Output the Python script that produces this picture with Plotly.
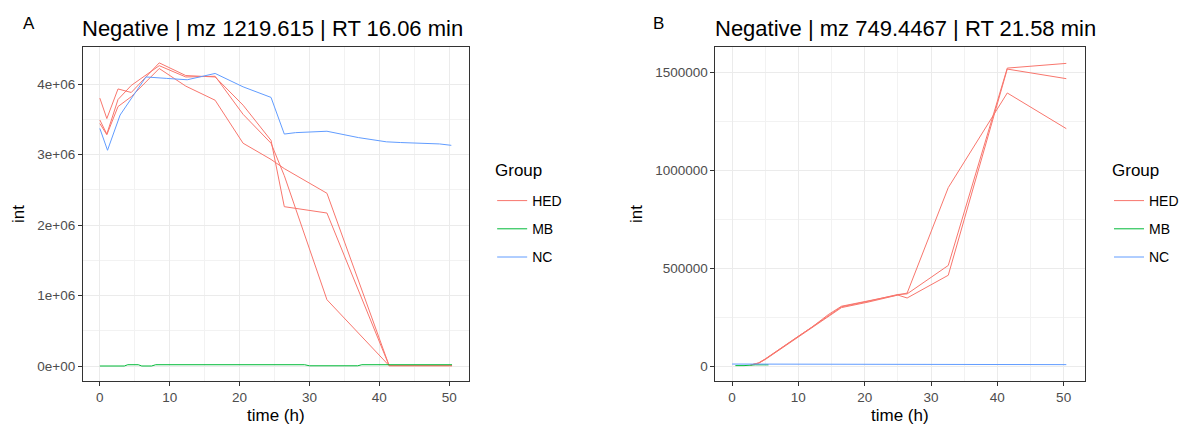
import plotly.graph_objects as go

W, H = 1184, 427
FONT = "Liberation Sans, Arial, sans-serif"
COL = {"HED": "#F8766D", "MB": "#00BA38", "NC": "#619CFF"}
groups = ["HED", "MB", "NC"]

# ---------------- Panel A data (int in 1e6 units) ----------------
a_hed_time = [0, 1, 2.6, 4.5, 8.5, 12.3, 16.5, 20.5, 24.5, 26.4, 32.5, 41.4, 50.4]
a_hed1 = [3.80, 3.51, 3.93, 3.88, 4.30, 4.12, 4.10, 3.70, 3.20, 2.26, 2.17, 0.005, 0.005]
a_hed2 = [3.49, 3.29, 3.78, 3.98, 4.26, 4.10, 4.11, 3.57, 3.16, 2.70, 0.94, 0.005, 0.005]
a_hed3 = [3.44, 3.28, 3.68, 3.82, 4.22, 3.97, 3.77, 3.16, 2.93, 2.80, 2.45, 0.005, 0.005]

a_mb_time = [0, 1, 3.5, 4.0, 5.5, 6.0, 7.4, 8.0, 12, 16.5, 20.5, 24.5, 29.3, 30.0, 36.9, 37.5, 41.5, 50.4]
a_mb = [0, 0, 0, 0.018, 0.018, 0, 0, 0.018, 0.018, 0.018, 0.018, 0.018, 0.018, 0.003, 0.003, 0.018, 0.018, 0.018]

a_nc_time = [0, 1.1, 2.9, 4.5, 6.6, 9.5, 12.5, 16.5, 20.5, 24.5, 26.4, 28, 32.5, 37, 41, 43, 45.7, 48.6, 50.3]
a_nc = [3.37, 3.06, 3.56, 3.80, 4.10, 4.08, 4.06, 4.15, 3.96, 3.81, 3.29, 3.31, 3.33, 3.24, 3.18, 3.17, 3.16, 3.15, 3.13]

# ---------------- Panel B data (int) ----------------
b_hed_time = [2.8, 4, 5, 6.5, 8.3, 10, 12, 14.5, 16.5, 20.5, 25, 26.4, 32.6, 41.5, 50.4]
b_hed1 = [5000, 15000, 35000, 70000, 110000, 150000, 195000, 258000, 302000, 330000, 365000, 368000, 513000, 1520000, 1544000]
b_hed2 = [5000, 14000, 33000, 68000, 108000, 148000, 192000, 255000, 298000, 326000, 362000, 347000, 463000, 1515000, 1466000]
b_hed3 = [5000, 16000, 36000, 72000, 112000, 152000, 197000, 262000, 305000, 332000, 366000, 372000, 910000, 1393000, 1211000]

b_mb_time = [0.5, 1.0, 1.8, 3.5, 4.5, 5.5]
b_mb = [2000, 2000, 2000, 6000, 6000, 6000]

b_nc_time = [0, 5, 10, 15, 20, 25.5, 26, 30, 35, 40, 45, 50.4]
b_nc = [10000, 10000, 10000, 10000, 10000, 10000, 7000, 7000, 7000, 7000, 7000, 7000]

# tick labels
a_ytickvals = [0, 1, 2, 3, 4]
a_yticktext = ["0e+00", "1e+06", "2e+06", "3e+06", "4e+06"]
b_ytickvals = [0, 500000, 1000000, 1500000]
b_yticktext = ["0", "500000", "1000000", "1500000"]
xtickvals = [0, 10, 20, 30, 40, 50]

fig = go.Figure()

def add(xs, ys, grp, xa, ya, leg, show):
    fig.add_trace(go.Scatter(
        x=xs, y=ys, mode="lines", name=grp,
        line=dict(color=COL[grp], width=1),
        xaxis=xa, yaxis=ya, legend=leg, legendgroup=grp + leg,
        showlegend=show, hoverinfo="skip"))

for i, ys in enumerate([a_hed1, a_hed2, a_hed3]):
    add(a_hed_time, ys, "HED", "x", "y", "legend", i == 0)
add(a_mb_time, a_mb, "MB", "x", "y", "legend", True)
add(a_nc_time, a_nc, "NC", "x", "y", "legend", True)

for i, ys in enumerate([b_hed1, b_hed2, b_hed3]):
    add(b_hed_time, ys, "HED", "x2", "y2", "legend2", i == 0)
add(b_mb_time, b_mb, "MB", "x2", "y2", "legend2", True)
add(b_nc_time, b_nc, "NC", "x2", "y2", "legend2", True)

def px(x):
    return x / W

def py(y):
    return 1 - y / H

axis_common = dict(
    showline=True, linecolor="#333333", linewidth=1, mirror=True,
    ticks="outside", ticklen=4, tickcolor="#333333", tickwidth=1,
    showgrid=True, gridcolor="#EBEBEB", gridwidth=1,
    zeroline=False,
    tickfont=dict(family=FONT, size=13.5, color="#4D4D4D"),
    minor=dict(showgrid=True, gridcolor="#F2F2F2", gridwidth=1, ticks=""),
)

yd = [py(381), py(47)]
leg_common = dict(xanchor="left", yanchor="top",
                  font=dict(family=FONT, size=14, color="black"), tracegroupgap=7,
                  bgcolor="rgba(0,0,0,0)")
fig.update_layout(
    width=W, height=H, margin=dict(l=0, r=0, t=0, b=0),
    paper_bgcolor="white", plot_bgcolor="white",
    font=dict(family=FONT, color="black"),
    xaxis=dict(domain=[px(83), px(470)], range=[-2.43, 52.86], tickvals=xtickvals,
               anchor="y", **axis_common),
    yaxis=dict(domain=yd, range=[-0.2128, 4.525], tickvals=a_ytickvals, ticktext=a_yticktext,
               anchor="x", **axis_common),
    xaxis2=dict(domain=[px(716.7), px(1086.7)], range=[-2.5, 53.2], tickvals=xtickvals,
                anchor="y2", **axis_common),
    yaxis2=dict(domain=yd, range=[-76500, 1627600], tickvals=b_ytickvals, ticktext=b_yticktext,
                anchor="x2", **axis_common),
    legend=dict(x=px(493), y=py(185), **leg_common),
    legend2=dict(x=px(1111), y=py(185), **leg_common),
    showlegend=True,
)

fig.update_xaxes(minor=dict(tickvals=[5, 15, 25, 35, 45]))
fig.update_layout(yaxis=dict(minor=dict(tickvals=[0.5, 1.5, 2.5, 3.5])),
                  yaxis2=dict(minor=dict(tickvals=[250000, 750000, 1250000])))

ann = []
def text(x, y, s, size, xanchor="left", angle=0, color="black"):
    ann.append(dict(x=px(x), y=py(y), xref="paper", yref="paper", text=s, showarrow=False,
                    xanchor=xanchor, yanchor="middle", textangle=angle,
                    font=dict(family=FONT, size=size, color=color)))

text(21, 24, "A", 17)
text(652, 24, "B", 17)
text(80, 29, "Negative | mz 1219.615 | RT 16.06 min", 22)
text(714, 29, "Negative | mz 749.4467 | RT 21.58 min", 22)
text(276.5, 415, "time (h)", 17, xanchor="center")
text(901.7, 415, "time (h)", 17, xanchor="center")
text(18, 214, "int", 17, xanchor="center", angle=-90)
text(637, 214, "int", 17, xanchor="center", angle=-90)
text(494, 170, "Group", 17)
text(1112, 170, "Group", 17)
fig.update_layout(annotations=ann)

fig.write_html("out.html")
